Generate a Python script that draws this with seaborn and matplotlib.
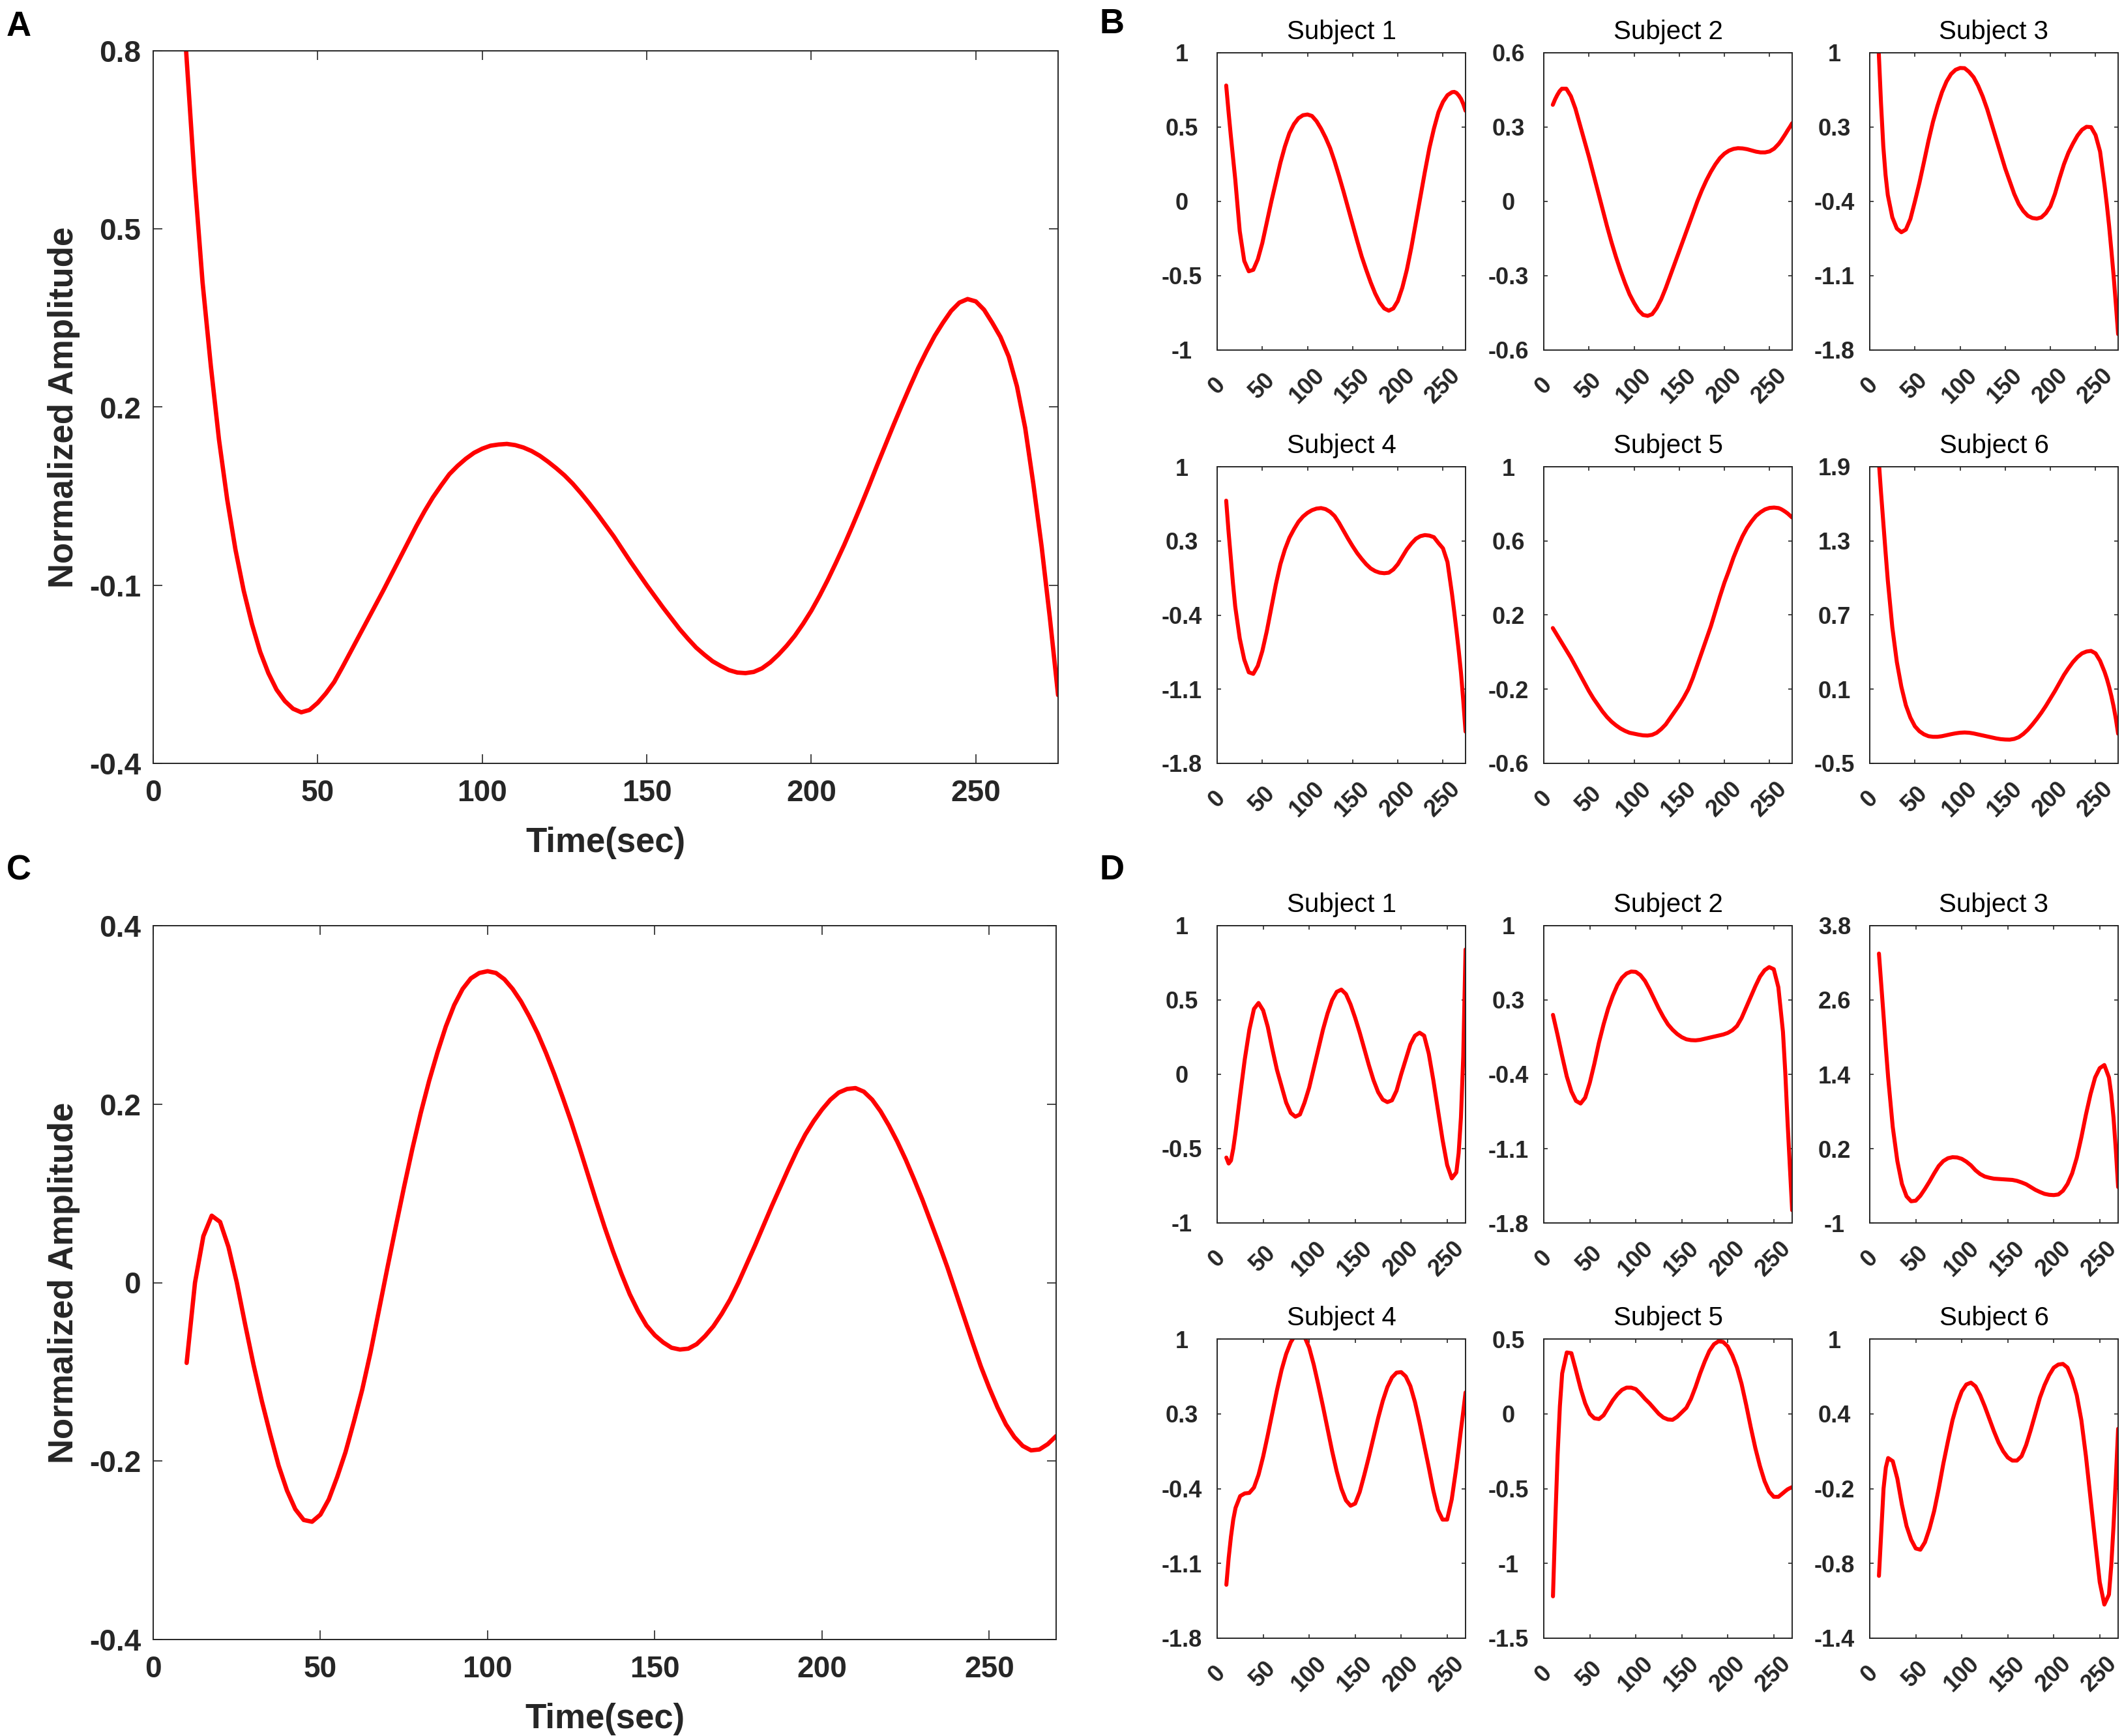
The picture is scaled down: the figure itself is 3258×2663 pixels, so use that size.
import numpy as np
import matplotlib
matplotlib.use("Agg")
import matplotlib.pyplot as plt
import seaborn as sns

# Time axes (sec)
time_a = np.arange(10, 275.1, 2.5)   # 10 .. 275, panel A
time_c = np.arange(10, 270.1, 2.5)   # 10 .. 270, panel C
# small panels: denser samples near the steep start / end
time_b = np.concatenate([[10, 12.5, 15, 17.5], np.arange(20, 260, 5),
                         [260, 262.5, 265, 267.5, 270, 272.5, 275]])
time_d = np.concatenate([[10, 12.5, 15, 17.5], np.arange(20, 260, 5),
                         [260, 262.5, 265, 267.5, 270]])

# Panel A - group curve
amp_a = [0.800, 0.590, 0.410, 0.270, 0.145, 0.044, -0.040, -0.109, -0.165, -0.212,
         -0.248, -0.276, -0.295, -0.308, -0.314, -0.310, -0.298, -0.282, -0.263, -0.238,
         -0.212, -0.186, -0.160, -0.134, -0.108, -0.081, -0.054, -0.027, 0.000, 0.025,
         0.048, 0.068, 0.087, 0.101, 0.113, 0.123, 0.130, 0.135, 0.137, 0.138,
         0.136, 0.132, 0.126, 0.118, 0.108, 0.097, 0.085, 0.071, 0.055, 0.038,
         0.020, 0.001, -0.018, -0.039, -0.060, -0.080, -0.100, -0.119, -0.138, -0.156,
         -0.174, -0.190, -0.205, -0.217, -0.228, -0.236, -0.243, -0.247, -0.248, -0.246,
         -0.240, -0.230, -0.217, -0.202, -0.185, -0.165, -0.143, -0.118, -0.091, -0.062,
         -0.032, 0.000, 0.033, 0.067, 0.102, 0.136, 0.170, 0.203, 0.235, 0.266,
         0.294, 0.320, 0.342, 0.362, 0.376, 0.382, 0.378, 0.364, 0.342, 0.318,
         0.285, 0.235, 0.165, 0.070, -0.035, -0.155, -0.285]

# Panel C - group curve
amp_c = [-0.090, 0.000, 0.052, 0.075, 0.068, 0.040, 0.000, -0.047, -0.092, -0.133,
         -0.170, -0.205, -0.233, -0.254, -0.266, -0.268, -0.260, -0.243, -0.218, -0.190,
         -0.156, -0.120, -0.078, -0.031, 0.016, 0.062, 0.107, 0.150, 0.190, 0.226,
         0.258, 0.287, 0.311, 0.329, 0.341, 0.347, 0.349, 0.347, 0.340, 0.329,
         0.315, 0.298, 0.279, 0.257, 0.233, 0.207, 0.180, 0.151, 0.121, 0.091,
         0.062, 0.035, 0.010, -0.013, -0.032, -0.048, -0.059, -0.067, -0.073, -0.075,
         -0.074, -0.069, -0.060, -0.049, -0.035, -0.019, 0.000, 0.021, 0.042, 0.064,
         0.086, 0.107, 0.128, 0.148, 0.166, 0.181, 0.194, 0.205, 0.213, 0.217,
         0.218, 0.214, 0.205, 0.192, 0.176, 0.158, 0.138, 0.116, 0.093, 0.068,
         0.043, 0.017, -0.011, -0.039, -0.067, -0.094, -0.118, -0.140, -0.159, -0.173,
         -0.183, -0.188, -0.187, -0.181, -0.172]

# Panel B - single subjects (samples at time_b)
b_subj1 = [0.78, 0.61, 0.45, 0.30,
           0.15, -0.20, -0.40, -0.47, -0.46, -0.39, -0.28, -0.14,
           0.0, 0.13, 0.26, 0.37, 0.46, 0.52, 0.56, 0.58, 0.585, 0.575,
           0.54, 0.49, 0.43, 0.36, 0.27, 0.17, 0.065, -0.045, -0.155, -0.265,
           -0.37, -0.46, -0.545, -0.62, -0.68, -0.72, -0.735, -0.72, -0.67, -0.58,
           -0.46, -0.31, -0.14, 0.03, 0.20, 0.36, 0.49, 0.60, 0.67, 0.715,
           0.735, 0.737, 0.73, 0.713, 0.69, 0.655, 0.61]
b_subj2 = [0.39, 0.412, 0.43, 0.445,
           0.455, 0.455, 0.425, 0.375, 0.31, 0.245, 0.18, 0.11,
           0.04, -0.03, -0.10, -0.165, -0.225, -0.28, -0.33, -0.375, -0.41, -0.44,
           -0.458, -0.462, -0.455, -0.43, -0.395, -0.35, -0.30, -0.25, -0.20, -0.15,
           -0.10, -0.05, 0.0, 0.045, 0.085, 0.12, 0.15, 0.175, 0.193, 0.205,
           0.212, 0.215, 0.214, 0.211, 0.206, 0.201, 0.198, 0.198, 0.202, 0.213,
           0.232, 0.244, 0.258, 0.272, 0.287, 0.301, 0.316]
b_subj3 = [1.00, 0.52, 0.12, -0.15,
           -0.34, -0.55, -0.655, -0.69, -0.665, -0.565, -0.40, -0.225,
           -0.03, 0.17, 0.35, 0.50, 0.63, 0.73, 0.80, 0.84, 0.857, 0.855,
           0.82, 0.77, 0.69, 0.59, 0.47, 0.33, 0.19, 0.05, -0.09, -0.21,
           -0.33, -0.425, -0.49, -0.535, -0.556, -0.562, -0.55, -0.51, -0.445, -0.33,
           -0.185, -0.05, 0.06, 0.145, 0.22, 0.275, 0.303, 0.30, 0.225, 0.07,
           -0.25, -0.43, -0.63, -0.86, -1.10, -1.37, -1.65]
b_subj4 = [0.68, 0.40, 0.15, -0.10,
           -0.32, -0.62, -0.82, -0.94, -0.955, -0.88, -0.74, -0.55,
           -0.33, -0.11, 0.08, 0.22, 0.33, 0.41, 0.48, 0.53, 0.565, 0.59,
           0.605, 0.61, 0.60, 0.575, 0.535, 0.47, 0.395, 0.32, 0.25, 0.185,
           0.13, 0.08, 0.04, 0.015, 0.0, -0.005, 0.0, 0.03, 0.08, 0.15,
           0.22, 0.275, 0.32, 0.345, 0.355, 0.35, 0.335, 0.28, 0.23, 0.10,
           -0.20, -0.37, -0.55, -0.74, -0.95, -1.21, -1.50]
b_subj5 = [0.13, 0.11, 0.09, 0.07,
           0.05, 0.01, -0.03, -0.075, -0.12, -0.165, -0.21, -0.25,
           -0.285, -0.32, -0.35, -0.375, -0.395, -0.412, -0.425, -0.435, -0.44, -0.445,
           -0.449, -0.45, -0.446, -0.435, -0.415, -0.39, -0.355, -0.32, -0.285, -0.245,
           -0.20, -0.14, -0.07, 0.0, 0.07, 0.14, 0.22, 0.30, 0.375, 0.44,
           0.51, 0.57, 0.625, 0.67, 0.705, 0.735, 0.755, 0.77, 0.778, 0.78,
           0.777, 0.772, 0.765, 0.757, 0.748, 0.737, 0.726]
b_subj6 = [1.95, 1.69, 1.45, 1.21,
           0.98, 0.60, 0.32, 0.12, -0.03, -0.13, -0.20, -0.24,
           -0.265, -0.28, -0.285, -0.285, -0.28, -0.272, -0.264, -0.257, -0.252, -0.25,
           -0.252, -0.258, -0.266, -0.274, -0.282, -0.29, -0.298, -0.304, -0.307, -0.308,
           -0.302, -0.288, -0.262, -0.228, -0.186, -0.14, -0.09, -0.035, 0.025, 0.085,
           0.15, 0.215, 0.27, 0.32, 0.36, 0.39, 0.405, 0.41, 0.39, 0.33,
           0.24, 0.185, 0.12, 0.045, -0.04, -0.14, -0.26]

# Panel D - single subjects (samples at time_d)
d_subj1 = [-0.56, -0.60, -0.58, -0.50,
           -0.39, -0.14, 0.10, 0.30, 0.44, 0.48, 0.43, 0.32,
           0.17, 0.03, -0.08, -0.19, -0.26, -0.285, -0.27, -0.19, -0.09, 0.04,
           0.17, 0.30, 0.41, 0.50, 0.555, 0.57, 0.54, 0.47, 0.38, 0.28,
           0.17, 0.06, -0.04, -0.12, -0.17, -0.187, -0.175, -0.11, 0.0, 0.10,
           0.20, 0.26, 0.28, 0.26, 0.14, -0.04, -0.24, -0.44, -0.61, -0.70,
           -0.66, -0.53, -0.29, 0.12, 0.84]
d_subj2 = [0.16, 0.065, -0.03, -0.13,
           -0.23, -0.42, -0.56, -0.65, -0.675, -0.62, -0.48, -0.30,
           -0.10, 0.07, 0.22, 0.34, 0.44, 0.51, 0.55, 0.568, 0.565, 0.535,
           0.48, 0.40, 0.31, 0.22, 0.14, 0.07, 0.02, -0.02, -0.05, -0.07,
           -0.078, -0.08, -0.075, -0.065, -0.055, -0.045, -0.035, -0.025, -0.01, 0.015,
           0.055, 0.13, 0.23, 0.33, 0.43, 0.52, 0.58, 0.61, 0.59, 0.42,
           0.0, -0.38, -0.85, -1.27, -1.68]
d_subj3 = [3.35, 2.85, 2.35, 1.83,
           1.35, 0.55, 0.0, -0.37, -0.57, -0.65, -0.64, -0.56,
           -0.45, -0.33, -0.20, -0.08, 0.0, 0.045, 0.062, 0.058, 0.035, -0.01,
           -0.07, -0.15, -0.21, -0.25, -0.27, -0.285, -0.29, -0.295, -0.30, -0.305,
           -0.32, -0.345, -0.375, -0.42, -0.465, -0.50, -0.53, -0.545, -0.55, -0.54,
           -0.48, -0.37, -0.20, 0.05, 0.38, 0.75, 1.08, 1.35, 1.50, 1.55,
           1.35, 1.08, 0.70, 0.18, -0.42]
d_subj4 = [-1.30, -1.05, -0.85, -0.69,
           -0.58, -0.47, -0.445, -0.44, -0.39, -0.27, -0.10, 0.10,
           0.31, 0.52, 0.71, 0.86, 0.97, 1.04, 1.06, 1.02, 0.92, 0.76,
           0.57, 0.37, 0.16, -0.05, -0.24, -0.40, -0.51, -0.56, -0.54, -0.43,
           -0.27, -0.10, 0.08, 0.26, 0.42, 0.55, 0.64, 0.685, 0.69, 0.65,
           0.56, 0.41, 0.22, 0.01, -0.20, -0.42, -0.60, -0.69, -0.69, -0.50,
           -0.20, -0.03, 0.15, 0.32, 0.50]
d_subj5 = [-1.22, -0.72, -0.28, 0.05,
           0.27, 0.41, 0.405, 0.29, 0.17, 0.07, 0.0, -0.03,
           -0.035, -0.01, 0.04, 0.09, 0.13, 0.16, 0.175, 0.175, 0.165, 0.135,
           0.10, 0.07, 0.035, 0.0, -0.025, -0.038, -0.04, -0.02, 0.01, 0.04,
           0.10, 0.18, 0.27, 0.35, 0.42, 0.465, 0.485, 0.48, 0.45, 0.39,
           0.31, 0.20, 0.06, -0.09, -0.23, -0.35, -0.45, -0.52, -0.555, -0.555,
           -0.53, -0.517, -0.505, -0.497, -0.49]
d_subj6 = [-0.90, -0.55, -0.20, -0.03,
           0.045, 0.02, -0.12, -0.33, -0.50, -0.61, -0.68, -0.69,
           -0.63, -0.52, -0.38, -0.20, 0.0, 0.18, 0.35, 0.48, 0.58, 0.635,
           0.65, 0.62, 0.55, 0.46, 0.36, 0.26, 0.17, 0.10, 0.05, 0.025,
           0.025, 0.06, 0.15, 0.27, 0.40, 0.53, 0.63, 0.71, 0.77, 0.795,
           0.80, 0.77, 0.68, 0.55, 0.35, 0.06, -0.28, -0.62, -0.95, -1.13,
           -1.05, -0.82, -0.50, -0.12, 0.28]

# Tick values
x_ticks = [0, 50, 100, 150, 200, 250]
a_yticks = [-0.4, -0.1, 0.2, 0.5, 0.8]
c_yticks = [-0.4, -0.2, 0.0, 0.2, 0.4]
b_yticks = [[-1, -0.5, 0, 0.5, 1], [-0.6, -0.3, 0, 0.3, 0.6], [-1.8, -1.1, -0.4, 0.3, 1],
            [-1.8, -1.1, -0.4, 0.3, 1], [-0.6, -0.2, 0.2, 0.6, 1], [-0.5, 0.1, 0.7, 1.3, 1.9]]
d_yticks = [[-1, -0.5, 0, 0.5, 1], [-1.8, -1.1, -0.4, 0.3, 1], [-1, 0.2, 1.4, 2.6, 3.8],
            [-1.8, -1.1, -0.4, 0.3, 1], [-1.5, -1, -0.5, 0, 0.5], [-1.4, -0.8, -0.2, 0.4, 1]]
b_series = [b_subj1, b_subj2, b_subj3, b_subj4, b_subj5, b_subj6]
d_series = [d_subj1, d_subj2, d_subj3, d_subj4, d_subj5, d_subj6]

# Style
sns.set_style("ticks")
plt.rcParams["font.family"] = ["Liberation Sans", "DejaVu Sans"]
INK = "#262626"
RED = "#ff0000"
W, H = 3258, 2663

fig = plt.figure(figsize=(W / 200, H / 200), dpi=200)
fig.patch.set_facecolor("white")


def box(left, top, right, bottom):
    # pixel box -> figure fraction
    return [left / W, 1 - bottom / H, (right - left) / W, (bottom - top) / H]


def frame(ax, tick_len):
    for sp in ax.spines.values():
        sp.set_visible(True)
        sp.set_color(INK)
        sp.set_linewidth(0.7)
    ax.tick_params(direction="in", top=True, right=True, length=tick_len,
                   width=0.6, color=INK, labelcolor=INK)


def big_panel(px, t, y, xmax, yticks):
    ax = fig.add_axes(box(*px))
    sns.lineplot(x=t, y=y, ax=ax, color=RED, linewidth=2.4)
    frame(ax, 5)
    ax.tick_params(axis="y", pad=6.8, labelsize=16.5)
    ax.tick_params(axis="x", pad=8.5, labelsize=16.5)
    ax.set_xlim(0, xmax)
    ax.set_ylim(yticks[0], yticks[-1])
    ax.set_xticks(x_ticks)
    ax.set_xticklabels([f"{v:g}" for v in x_ticks], fontweight="bold")
    ax.set_yticks(yticks)
    ax.set_yticklabels([f"{v:g}" for v in yticks], fontweight="bold")
    ax.set_xlabel("Time(sec)", fontsize=19, fontweight="bold", color=INK, labelpad=10.5)
    ax.set_ylabel("Normalized Amplitude", fontsize=19, fontweight="bold", color=INK, labelpad=5)
    return ax


def small_panel(px, t, y, xmax, yticks, title):
    ax = fig.add_axes(box(*px))
    sns.lineplot(x=t, y=y, ax=ax, color=RED, linewidth=2.2)
    frame(ax, 2)
    ax.tick_params(axis="y", pad=19.5, labelsize=13)
    ax.tick_params(axis="x", pad=19.8, labelsize=13)
    ax.set_xlim(0, xmax)
    ax.set_ylim(yticks[0], yticks[-1])
    ax.set_xticks(x_ticks)
    ax.set_xticklabels([f"{v:g}" for v in x_ticks], fontweight="bold",
                       rotation=45, ha="center", va="center")
    ax.set_yticks(yticks)
    ax.set_yticklabels([f"{v:g}" for v in yticks], fontweight="bold", ha="center")
    ax.set_xlabel("")
    ax.set_ylabel("")
    ax.set_title(title, fontsize=14.5, pad=7.5, color="black")
    return ax


# Big panels
big_panel((235, 78, 1623, 1171), time_a, amp_a, 275, a_yticks)
big_panel((235, 1420, 1620, 2515), time_c, amp_c, 270, c_yticks)

# Small multiples
col_px = [(1867, 2248), (2368, 2749), (2868, 3249)]
b_rows = [(81, 537), (716, 1171)]
d_rows = [(1420, 1876), (2054, 2513)]

for i in range(6):
    r, c = divmod(i, 3)
    left, right = col_px[c]
    top, bottom = b_rows[r]
    small_panel((left, top, right, bottom), time_b, b_series[i], 275, b_yticks[i], f"Subject {i + 1}")
    top, bottom = d_rows[r]
    small_panel((left, top, right, bottom), time_d, d_series[i], 270, d_yticks[i], f"Subject {i + 1}")

# Panel letters
for letter, x, y in [("A", 10, 16), ("B", 1686, 12), ("C", 10, 1310), ("D", 1686, 1310)]:
    fig.text(x / W, 1 - y / H, letter, fontsize=19, fontweight="bold",
             color="black", ha="left", va="top")

fig.savefig("out.png", dpi=200)
